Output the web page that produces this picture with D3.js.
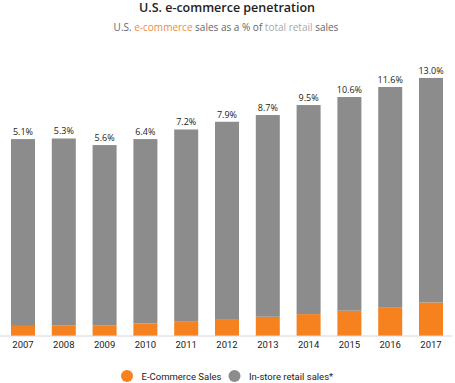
<!DOCTYPE html>
<html><head><meta charset="utf-8">
<script src="https://cdn.jsdelivr.net/npm/d3@7/dist/d3.min.js"></script>
<style>body{margin:0;background:#fff}svg{display:block}</style>
</head><body>
<svg id="c" width="455" height="383"></svg>
<script>
const years = ["2007","2008","2009","2010","2011","2012","2013","2014","2015","2016","2017"];
const ecommerce = [136,141,144,170,201,229,260,296,342,390,453];
const instore = [2525,2528,2436,2491,2590,2666,2726,2825,2888,2975,3034];
const pctLabels = ["5.1%","5.3%","5.6%","6.4%","7.2%","7.9%","8.7%","9.5%","10.6%","11.6%","13.0%"];
const legendLabels = ["E-Commerce Sales","In-store retail sales*"];

const orange = "#f5821f", gray = "#8c8c8c";
const svg = d3.select("#c");
const x = d3.scaleBand().domain(years).range([0.8, 453.2]).paddingInner(0.412).paddingOuter(0.25);
const y = d3.scaleLinear().domain([0, 3500]).range([336, 77]);

const data = years.map((yr,i)=>({yr, e: ecommerce[i], s: instore[i], p: pctLabels[i]}));
const stack = d3.stack().keys(["e","s"])(data);
const colors = [orange, gray];

svg.append("g").selectAll("g").data(stack).join("g")
  .attr("fill",(d,i)=>colors[i])
  .selectAll("rect").data(d=>d).join("rect")
  .attr("x",d=>x(d.data.yr)).attr("width",x.bandwidth())
  .attr("y",d=>y(d[1])).attr("height",d=>y(d[0])-y(d[1]));

svg.append("g").selectAll("text").data(data).join("text")
  .attr("x",d=>x(d.yr)+x.bandwidth()/2)
  .attr("y",d=>y(d.e+d.s)-4)
  .attr("text-anchor","middle")
  .attr("font-family","'Open Sans', sans-serif").attr("font-size","9px").attr("fill","#222")
  .text(d=>d.p);

// axis
const ax = svg.append("g").attr("transform","translate(0,336)")
  .call(d3.axisBottom(x).tickSize(0).tickPadding(5));
ax.select(".domain").attr("stroke","#d6d6d6").attr("d","M0,0H452");
ax.selectAll("text").attr("font-family","Roboto, sans-serif").attr("font-size","9.5px").attr("fill","#222");

// title
svg.append("text").attr("x",227).attr("y",12).attr("text-anchor","middle")
  .attr("font-family","'Open Sans', sans-serif").attr("font-weight","600").attr("font-size","12.5px").attr("fill","#222")
  .text("U.S. e-commerce penetration");
const sub = svg.append("text").attr("x",226).attr("y",30.5).attr("text-anchor","middle")
  .attr("font-family","'Open Sans', sans-serif").attr("font-size","10px");
[["U.S. ","#666"],["e-commerce","#f08a3c"],[" sales as a % of ","#666"],["total retail","#a8a8a8"],[" sales","#666"]]
  .forEach(([t,c])=>sub.append("tspan").attr("fill",c).text(t));

// legend
const lg = svg.append("g");
const lx = [127, 234.5];
legendLabels.forEach((t,i)=>{
  lg.append("circle").attr("cx",lx[i]).attr("cy",376).attr("r",6).attr("fill",colors[i]);
  lg.append("text").attr("x",lx[i]+14.5).attr("y",379.5)
    .attr("font-family","Roboto, sans-serif").attr("font-size","9.5px").attr("fill","#222").text(t);
});
</script>
</body></html>
